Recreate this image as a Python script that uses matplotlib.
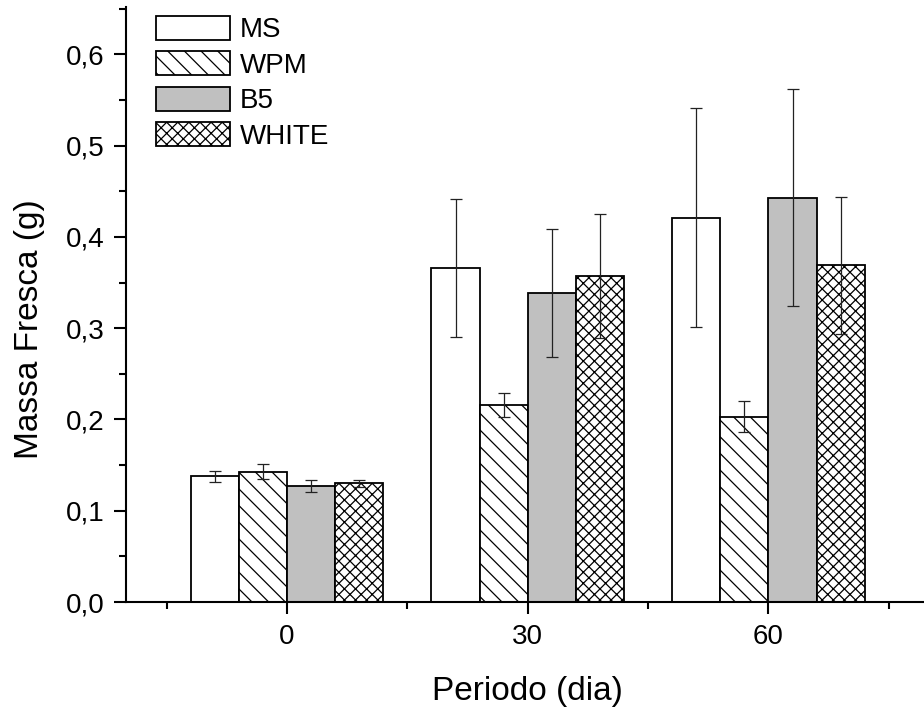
import matplotlib
matplotlib.use("Agg")
import matplotlib.pyplot as plt
import numpy as np
from matplotlib.ticker import MultipleLocator, FixedLocator, FuncFormatter

plt.rcParams["font.family"] = ["Liberation Sans", "DejaVu Sans"]
plt.rcParams["hatch.linewidth"] = 0.9

# Data
periods = ["0", "30", "60"]
media = ["MS", "WPM", "B5", "WHITE"]
ms_mean = [0.138, 0.366, 0.421]
ms_err = [0.006, 0.076, 0.120]
wpm_mean = [0.143, 0.216, 0.203]
wpm_err = [0.008, 0.013, 0.017]
b5_mean = [0.127, 0.339, 0.443]
b5_err = [0.007, 0.070, 0.119]
white_mean = [0.130, 0.357, 0.369]
white_err = [0.004, 0.068, 0.075]

means = [ms_mean, wpm_mean, b5_mean, white_mean]
errs = [ms_err, wpm_err, b5_err, white_err]
fills = ["white", "white", "#c0c0c0", "white"]
hatches = [None, "\\\\", None, "xxx"]

W, H = 924, 713
fig = plt.figure(figsize=(W / 100, H / 100), dpi=100)
ax = fig.add_axes([126 / W, 1 - 602 / H, (923 - 126) / W, (602 - 7) / H])

x = np.arange(len(periods))
bw = 0.2
offsets = [-0.3, -0.1, 0.1, 0.3]

for i in range(4):
    ax.bar(x + offsets[i], means[i], width=bw, color=fills[i],
           edgecolor="black", linewidth=1.3, hatch=hatches[i],
           label=media[i], zorder=2)
    ax.errorbar(x + offsets[i], means[i], yerr=errs[i], fmt="none",
                ecolor="#222222", elinewidth=0.9, capsize=4.6,
                capthick=0.9, zorder=3)

ax.set_xlim(-0.669, 2.642)
ax.set_ylim(0, 0.652)

ax.set_xticks(x)
ax.set_xticklabels(periods)
ax.xaxis.set_minor_locator(FixedLocator([-0.5, 0.5, 1.5, 2.5]))
ax.yaxis.set_major_locator(MultipleLocator(0.1))
ax.yaxis.set_minor_locator(MultipleLocator(0.05))
ax.yaxis.set_major_formatter(FuncFormatter(lambda v, p: f"{v:.1f}".replace(".", ",")))

for s in ["top", "right"]:
    ax.spines[s].set_visible(False)
for s in ["left", "bottom"]:
    ax.spines[s].set_linewidth(1.5)

ax.tick_params(which="major", direction="out", length=8.5, width=1.5,
               labelsize=20, pad=7)
ax.tick_params(which="minor", direction="out", length=5, width=1.5)

ax.set_xlabel("Periodo (dia)", fontsize=24, va="center", ha="center")
ax.xaxis.set_label_coords(527.5 / W, 1 - 691.7 / H, transform=fig.transFigure)
ax.set_ylabel("Massa Fresca (g)", fontsize=24, va="center", ha="center")
ax.yaxis.set_label_coords(30 / W, 1 - 329 / H, transform=fig.transFigure)

fs = 20 * 100 / 72
ax.legend(loc="upper left", bbox_to_anchor=(156 / W, 1 - 16 / H),
          bbox_transform=fig.transFigure, frameon=False, fontsize=20,
          borderpad=0, handlelength=74 / fs, handleheight=26 / fs,
          handletextpad=10 / fs, labelspacing=0.29, borderaxespad=0)

fig.savefig("out.png", dpi=100)
